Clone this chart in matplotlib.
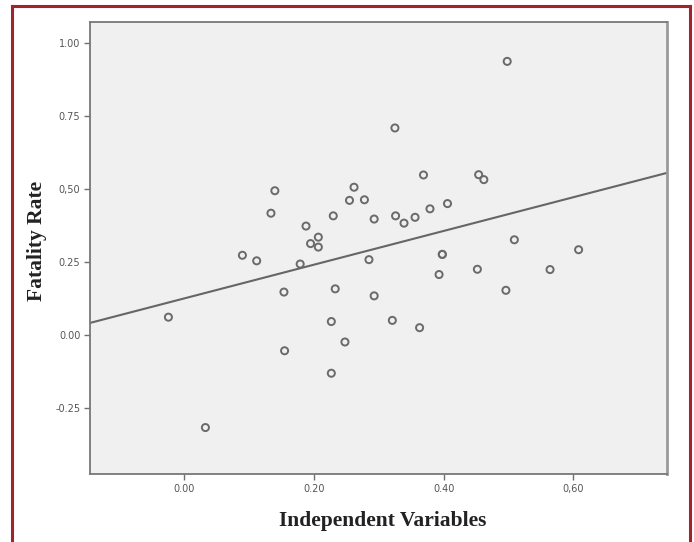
import numpy as np
import matplotlib.pyplot as plt
from matplotlib.lines import Line2D

# values
independent = [-0.024, 0.033, 0.090, 0.112, 0.134, 0.140, 0.154, 0.155, 0.179, 0.188,
               0.195, 0.207, 0.207, 0.227, 0.227, 0.230, 0.233, 0.248, 0.255, 0.262,
               0.278, 0.285, 0.293, 0.293, 0.321, 0.325, 0.326, 0.339, 0.356, 0.363,
               0.369, 0.379, 0.393, 0.398, 0.398, 0.406, 0.452, 0.454, 0.462, 0.496,
               0.498, 0.509, 0.564, 0.608]
fatality = [0.062, -0.316, 0.274, 0.255, 0.418, 0.495, 0.148, -0.053, 0.244, 0.374,
            0.314, 0.336, 0.302, 0.047, -0.130, 0.409, 0.159, -0.023, 0.462, 0.507,
            0.464, 0.259, 0.398, 0.135, 0.051, 0.710, 0.409, 0.384, 0.404, 0.026,
            0.549, 0.433, 0.208, 0.277, 0.277, 0.451, 0.226, 0.550, 0.533, 0.154,
            0.938, 0.327, 0.225, 0.293]

# fit line as drawn in the reference
fit_intercept = 0.126
fit_slope = 0.578

x_ticks = [0.0, 0.2, 0.4, 0.6]
x_labels = ["0.00", "0.20", "0.40", "0,60"]
y_ticks = [-0.25, 0.0, 0.25, 0.5, 0.75, 1.0]
y_labels = ["-0.25", "0.00", "0.25", "0,50", "0.75", "1.00"]

fig = plt.figure(figsize=(6.94, 5.42), dpi=100)
fig.patch.set_facecolor("white")
ax = fig.add_axes([0.1297, 0.1255, 0.8314, 0.834])
ax.set_facecolor("#f0f0f0")

ax.scatter(independent, fatality, s=26, facecolors="none", edgecolors="#6a6a6a",
           linewidths=1.4, zorder=3)
ax.axline((0, fit_intercept), slope=fit_slope, color="#666666", lw=1.5, zorder=2)

ax.set_xlim(-0.1448, 0.7442)
ax.set_ylim(-0.475, 1.073)
ax.set_xticks(x_ticks)
ax.set_xticklabels(x_labels)
ax.set_yticks(y_ticks)
ax.set_yticklabels(y_labels)
ax.tick_params(direction="out", length=4, width=1, color="#707070",
               labelsize=7, labelcolor="#555555", pad=3)

for side in ["left", "bottom", "top"]:
    ax.spines[side].set_color("#777777")
    ax.spines[side].set_linewidth(1.3)
ax.spines["right"].set_color("#9a9a9a")
ax.spines["right"].set_linewidth(2.0)

ax.set_xlabel("Independent Variables", family="Liberation Serif", fontweight="bold",
              fontsize=15.5, color="#222222")
ax.xaxis.set_label_coords(0.508, -0.083)
ax.set_ylabel("Fatality Rate", family="Liberation Serif", fontweight="bold",
              fontsize=15.5, color="#222222")
ax.yaxis.set_label_coords(-0.074, 0.515)

# dark red frame (open at the bottom)
red = "#a3232b"
fig.add_artist(Line2D([12 / 694, 12 / 694], [0, 1 - 6 / 542], color=red, lw=2.2))
fig.add_artist(Line2D([12 / 694, 690 / 694], [1 - 6 / 542, 1 - 6 / 542], color=red, lw=2.2))
fig.add_artist(Line2D([690 / 694, 690 / 694], [0, 1 - 6 / 542], color=red, lw=2.2))

fig.savefig("out.png", dpi=100)
